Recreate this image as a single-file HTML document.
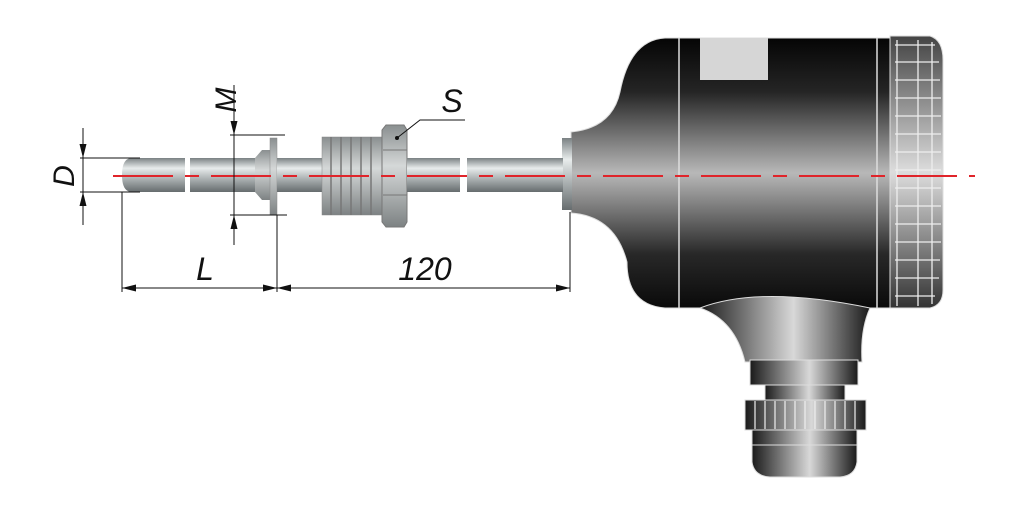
<!DOCTYPE html>
<html><head><meta charset="utf-8"><style>
html,body{margin:0;padding:0;background:#fff;width:1024px;height:512px;overflow:hidden}
svg{display:block}
text{font-family:"Liberation Sans",sans-serif;font-style:italic;fill:#111}
</style></head><body>
<svg width="1024" height="512" viewBox="0 0 1024 512" xmlns="http://www.w3.org/2000/svg">
<defs>
<linearGradient id="rod" x1="0" y1="0" x2="0" y2="1">
<stop offset="0" stop-color="#7a8183"/><stop offset="0.3" stop-color="#e8ecec"/><stop offset="0.6" stop-color="#aeb4b5"/><stop offset="1" stop-color="#666c6e"/></linearGradient>
<linearGradient id="nut" x1="0" y1="0" x2="0" y2="1">
<stop offset="0" stop-color="#8a8f90"/><stop offset="0.4" stop-color="#d5d8d8"/><stop offset="1" stop-color="#7d8283"/></linearGradient>
<linearGradient id="head" x1="0" y1="0" x2="0" y2="1">
<stop offset="0" stop-color="#050505"/><stop offset="0.2" stop-color="#252525"/><stop offset="0.5" stop-color="#b8b8b8"/><stop offset="0.8" stop-color="#282828"/><stop offset="1" stop-color="#0a0a0a"/></linearGradient>
<linearGradient id="gl" x1="0" y1="0" x2="1" y2="0">
<stop offset="0" stop-color="#1a1a1a"/><stop offset="0.55" stop-color="#d8d8d8"/><stop offset="1" stop-color="#1a1a1a"/></linearGradient>
<linearGradient id="fin" x1="0" y1="0" x2="0" y2="1">
<stop offset="0" stop-color="#444"/><stop offset="0.5" stop-color="#ddd"/><stop offset="1" stop-color="#333"/></linearGradient>
<marker id="a" viewBox="0 0 14 7" refX="14" refY="3.5" markerWidth="14" markerHeight="7" orient="auto-start-reverse" markerUnits="userSpaceOnUse"><path d="M0,0 L14,3.5 L0,7z" fill="#111"/></marker>
</defs>

<!-- head -->
<path d="M571,132 Q612,128 620,92 Q630,40 665,38 L890,38 L890,308 L665,308 Q627,305 627,262 Q615,216 571,213 Z" fill="url(#head)" stroke="#ddd" stroke-width="1"/>
<rect x="562" y="138" width="10" height="72" fill="url(#rod)"/>
<line x1="679" y1="38" x2="679" y2="308" stroke="#ddd" stroke-width="1.5"/>
<line x1="877" y1="38" x2="877" y2="308" stroke="#ddd" stroke-width="1.5"/>
<rect x="700" y="38" width="68" height="42" fill="#d6d6d6"/>
<!-- cap with fins -->
<path d="M890,36 L930,36 Q943,40 943,60 L943,290 Q943,305 930,308 L890,308 Z" fill="url(#fin)" stroke="#ddd"/>
<g stroke="#eee" stroke-width="1.3" fill="none">
<path d="M895,45h40M895,62h44M895,80h45M895,98h46M895,116h46M895,134h46M895,152h46M895,170h46M895,188h46M895,206h46M895,224h46M895,242h46M895,260h45M895,278h44M895,296h40"/>
<path d="M897,40v266M918,40v266M932,42v262"/>
</g>
<!-- neck bottom -->
<path d="M700,308 Q760,285 870,308 Q860,330 862,362 L745,362 Q735,320 700,308Z" fill="url(#gl)" stroke="#ddd"/>
<rect x="750" y="360" width="108" height="25" fill="url(#gl)" stroke="#ddd"/>
<rect x="765" y="385" width="80" height="16" fill="url(#gl)" stroke="#ddd"/>
<rect x="745" y="400" width="121" height="30" fill="url(#gl)" stroke="#ddd"/>
<g stroke="#eee" stroke-width="1.2"><path d="M755,401v28M765,401v28M775,401v28M785,401v28M795,401v28M805,401v28M815,401v28M825,401v28M835,401v28M845,401v28M855,401v28"/></g>
<path d="M752,430 L857,430 L857,462 Q855,476 840,477 L770,477 Q754,476 752,462Z" fill="url(#gl)" stroke="#ddd"/>
<line x1="752" y1="445" x2="857" y2="445" stroke="#ddd"/>

<!-- probe -->
<path d="M132,158 L185,158 L185,192 L132,192 Q122,192 122,175 Q122,158 132,158Z" fill="url(#rod)"/>
<rect x="190" y="158" width="65" height="34" fill="url(#rod)"/>
<path d="M255,158 L262,150 L270,150 L270,200 L262,200 L255,192Z" fill="url(#nut)"/>
<rect x="270" y="138" width="7" height="77" fill="url(#nut)" stroke="#888" stroke-width="0.5"/>
<rect x="277" y="158" width="45" height="34" fill="url(#rod)"/>
<rect x="322" y="137" width="60" height="78" fill="url(#nut)" stroke="#888" stroke-width="0.5"/>
<g stroke="#777" stroke-width="1.5"><path d="M331,137v78M341,137v78M351,137v78M361,137v78M371,137v78"/></g>
<path d="M386,125 L404,125 L407,130 L407,222 L404,227 L386,227 L382,222 L382,130Z" fill="url(#nut)" stroke="#777"/>
<path d="M383,150h24M383,195h24" stroke="#777"/>
<rect x="407" y="158" width="53" height="34" fill="url(#rod)"/>
<rect x="467" y="158" width="96" height="34" fill="url(#rod)"/>

<!-- centerline -->
<path d="M113,176 H975" stroke="#e0242a" stroke-width="2" stroke-dasharray="60,12,14,12"/>

<!-- dimensions -->
<g stroke="#111" stroke-width="1" fill="none">
<path d="M80,158H140M80,192H140"/>
<path d="M83,128V158" marker-end="url(#a)"/><path d="M83,225V192" marker-end="url(#a)"/>
<path d="M83,158V192"/>
<path d="M230,135H285M230,215H287"/>
<path d="M234,85V135" marker-end="url(#a)"/><path d="M234,245V215" marker-end="url(#a)"/>
<path d="M234,135V215"/>
<path d="M122,192V292M277,215V292M570,212V292"/>
<path d="M122,288H277" marker-start="url(#a)" marker-end="url(#a)"/>
<path d="M277,288H570" marker-start="url(#a)" marker-end="url(#a)"/>
<path d="M397,138 L420,120 H465"/>
</g>
<circle cx="397" cy="138" r="2" fill="#111"/>
<text x="0" y="0" font-size="30" transform="translate(74,176) rotate(-90)" text-anchor="middle">D</text>
<text x="0" y="0" font-size="30" transform="translate(236,100) rotate(-90)" text-anchor="middle">M</text>
<text x="205" y="280" font-size="32" text-anchor="middle">L</text>
<text x="425" y="280" font-size="32" text-anchor="middle">120</text>
<text x="452" y="112" font-size="32" text-anchor="middle">S</text>
</svg>
</body></html>
